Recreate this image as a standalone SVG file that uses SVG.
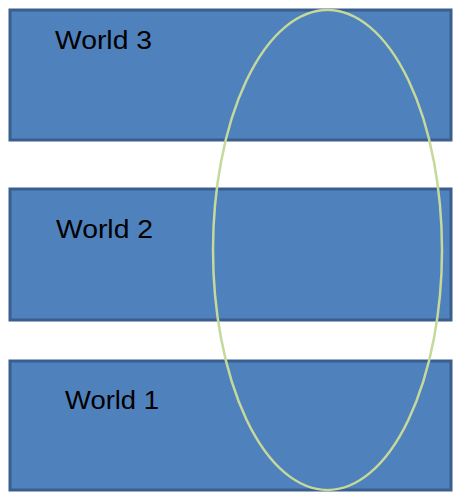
<svg xmlns="http://www.w3.org/2000/svg" width="453" height="492" viewBox="0 0 453 492">
<style>
.world{fill:#4f81bd;stroke:#3a5f8f;stroke-width:3}
.lbl{font-family:"Liberation Sans",Arial,sans-serif;font-size:26px;fill:#000}
.ring{fill:none;stroke:#c4d99a;stroke-width:2.5}
</style>
<rect width="453" height="492" fill="#fff"/>
<g id="world3"><rect class="world" x="10" y="10" width="441" height="130"/><text class="lbl" x="55" y="49" textLength="97" lengthAdjust="spacingAndGlyphs">World 3</text></g>
<g id="world2"><rect class="world" x="10" y="189" width="441" height="131"/><text class="lbl" x="56" y="238" textLength="97" lengthAdjust="spacingAndGlyphs">World 2</text></g>
<g id="world1"><rect class="world" x="10" y="361" width="441" height="129"/><text class="lbl" x="65" y="409" textLength="94" lengthAdjust="spacingAndGlyphs">World 1</text></g>
<g id="ring"><ellipse class="ring" cx="327.5" cy="250" rx="114.5" ry="240"/></g>
</svg>
